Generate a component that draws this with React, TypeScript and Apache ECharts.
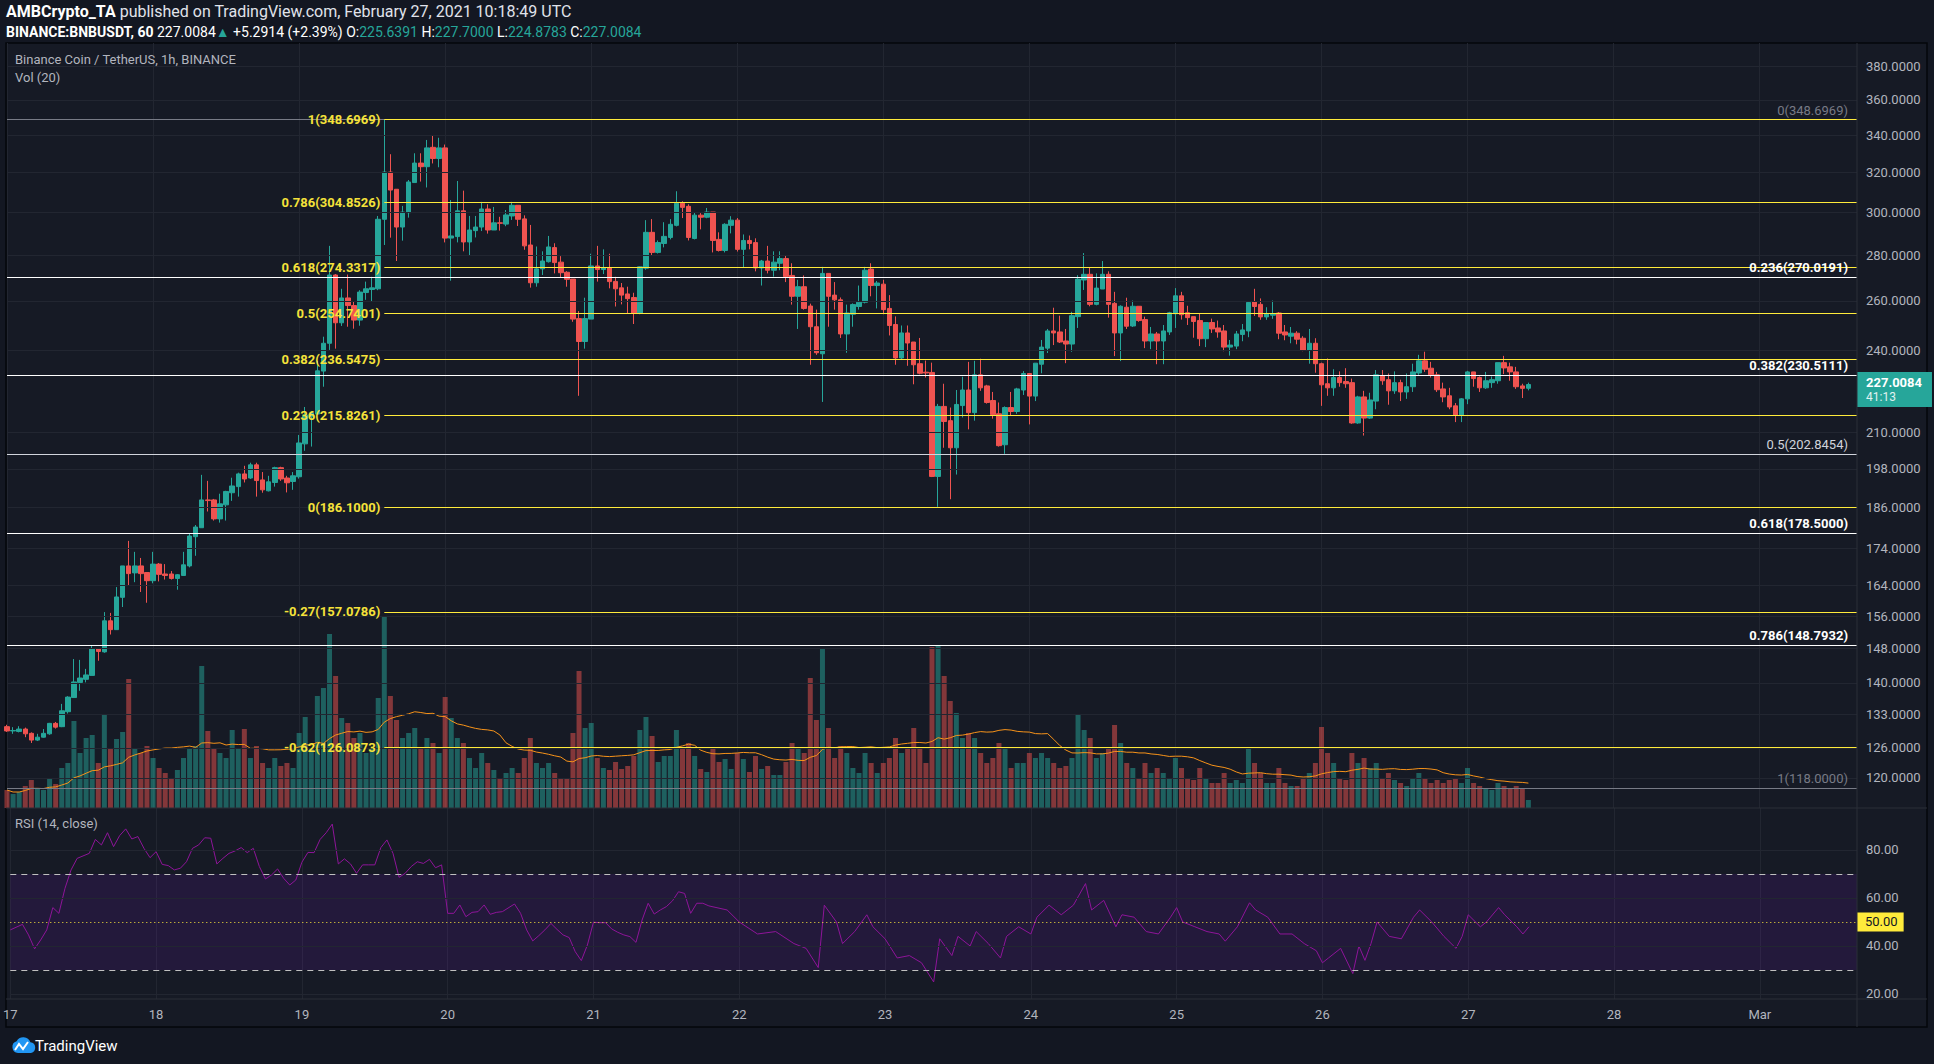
import React, { useEffect, useRef } from "react";
import * as echarts from "echarts";

// ---------- DATA ----------
// hourly candles from 2021-02-17 00:00 UTC: [open, high, low, close]
const ohlc: number[][] = [
  [130.4, 130.8, 129.3, 129.5], [129.5, 130.3, 128.9, 129.6], [129.4, 130.5, 129.2, 129.9], [129.9, 130.2, 128.2, 128.9],
  [129.0, 129.2, 127.0, 127.6], [127.6, 128.9, 127.4, 128.2], [128.2, 129.9, 128.1, 129.0], [128.9, 131.2, 128.7, 131.1],
  [131.1, 131.4, 130.0, 130.3], [130.4, 135.3, 130.3, 133.8], [133.6, 137.0, 133.2, 136.8], [136.7, 145.5, 136.7, 140.2],
  [140.1, 145.3, 138.2, 141.1], [140.8, 143.2, 140.1, 141.8], [141.7, 148.8, 141.7, 147.9], [147.9, 148.1, 145.1, 147.3],
  [147.2, 157.0, 147.0, 154.8], [154.8, 156.8, 151.4, 152.6], [152.6, 163.5, 152.6, 160.9], [160.8, 169.2, 158.3, 169.2],
  [169.2, 176.2, 163.9, 167.1], [167.3, 173.1, 164.8, 169.2], [169.2, 171.4, 162.2, 167.1], [167.4, 167.4, 159.4, 165.2],
  [165.2, 173.1, 164.5, 169.7], [169.7, 170.0, 165.0, 166.9], [167.0, 169.7, 165.5, 166.6], [167.0, 167.8, 165.5, 165.8],
  [165.8, 167.0, 162.8, 166.8], [166.6, 173.1, 166.6, 169.5], [169.2, 178.2, 168.8, 177.6], [177.4, 180.8, 172.0, 180.2],
  [180.0, 196.1, 180.0, 188.3], [188.3, 194.2, 184.8, 188.1], [188.3, 188.6, 182.1, 182.6], [182.6, 190.2, 181.5, 187.1],
  [186.8, 191.1, 182.1, 190.9], [190.5, 195.2, 188.0, 192.6], [192.4, 196.8, 189.3, 196.4], [196.4, 199.0, 193.7, 194.8],
  [195.1, 200.0, 194.8, 199.3], [199.3, 200.0, 189.3, 194.3], [194.5, 197.0, 190.5, 191.4], [191.1, 195.8, 190.9, 193.9],
  [193.7, 198.7, 192.4, 198.4], [198.4, 198.7, 194.2, 194.8], [195.1, 195.8, 190.6, 193.6], [194.0, 197.0, 191.4, 195.8],
  [195.5, 209.2, 194.9, 206.5], [206.2, 218.9, 203.9, 216.1], [215.6, 217.0, 205.3, 216.8], [216.4, 235.8, 216.4, 232.1],
  [232.0, 245.3, 226.2, 242.7], [242.7, 284.2, 240.1, 271.1], [271.1, 271.5, 240.6, 250.9], [250.9, 265.1, 249.6, 261.2],
  [261.2, 271.3, 249.3, 258.0], [258.0, 259.9, 248.5, 252.0], [252.0, 264.5, 249.7, 263.7], [263.5, 268.2, 260.4, 265.1],
  [264.8, 270.3, 259.6, 265.5], [265.1, 298.3, 264.5, 296.7], [296.7, 348.7, 284.6, 320.3], [320.3, 329.7, 288.0, 311.1],
  [311.5, 311.5, 277.3, 293.0], [293.0, 303.2, 286.6, 300.2], [299.9, 316.2, 297.5, 315.2], [314.9, 330.2, 314.9, 325.0],
  [325.0, 330.2, 315.4, 323.1], [323.1, 337.4, 312.4, 333.1], [333.4, 339.7, 324.8, 327.4], [327.4, 338.6, 322.8, 333.1],
  [333.1, 334.9, 285.8, 287.8], [287.8, 306.1, 268.6, 288.8], [288.5, 315.7, 285.8, 300.8], [300.8, 310.8, 281.7, 286.0],
  [286.0, 298.3, 279.9, 291.6], [291.3, 298.3, 288.1, 293.0], [293.0, 305.2, 291.1, 301.7], [301.7, 304.0, 289.9, 291.6],
  [291.6, 302.7, 291.6, 295.0], [295.0, 297.9, 291.3, 294.8], [294.4, 301.2, 293.4, 298.8], [298.3, 305.2, 296.4, 303.5],
  [303.5, 303.5, 293.5, 296.7], [296.9, 298.6, 282.4, 284.2], [284.6, 294.0, 265.6, 267.7], [267.7, 283.9, 266.0, 273.8],
  [273.8, 281.7, 271.1, 277.3], [277.0, 288.8, 276.6, 283.7], [283.4, 285.4, 271.8, 276.6], [276.8, 279.5, 270.0, 272.1],
  [272.3, 272.8, 266.0, 269.2], [269.3, 269.3, 251.3, 252.4], [252.6, 255.7, 222.9, 243.4], [243.4, 261.3, 240.6, 252.6],
  [252.4, 280.6, 252.4, 275.1], [275.1, 284.2, 268.2, 273.5], [273.5, 282.6, 271.5, 274.4], [274.4, 280.6, 265.3, 268.2],
  [268.3, 270.3, 257.6, 265.1], [265.5, 267.6, 258.5, 262.4], [262.9, 266.0, 254.9, 260.9], [261.4, 263.4, 250.4, 254.9],
  [254.9, 274.9, 254.4, 274.7], [274.1, 296.3, 273.4, 290.5], [290.5, 296.8, 279.8, 281.2], [281.2, 286.7, 280.7, 285.7],
  [285.3, 295.3, 283.5, 288.6], [288.1, 296.8, 287.2, 294.3], [293.8, 310.5, 293.3, 304.5], [304.5, 305.5, 297.3, 302.5],
  [303.0, 304.0, 286.7, 288.1], [287.6, 300.2, 287.2, 298.7], [298.7, 299.7, 291.9, 297.7], [297.7, 302.2, 297.2, 300.2],
  [300.2, 300.2, 281.2, 286.7], [287.2, 290.5, 281.6, 282.1], [282.1, 294.8, 281.2, 294.3], [293.8, 298.2, 290.0, 296.3],
  [296.3, 297.3, 281.6, 282.6], [282.6, 289.5, 274.2, 286.7], [286.7, 289.0, 282.6, 285.3], [285.7, 287.7, 272.7, 274.2],
  [274.2, 277.8, 266.5, 277.3], [277.3, 284.2, 271.8, 273.2], [273.2, 281.7, 270.4, 276.8], [276.3, 281.7, 273.2, 278.4],
  [278.4, 279.9, 268.0, 270.4], [270.9, 276.3, 258.4, 261.9], [261.9, 269.0, 248.4, 266.0], [266.0, 270.9, 256.3, 256.8],
  [257.8, 258.8, 234.4, 249.3], [249.3, 256.3, 238.2, 239.0], [238.6, 274.7, 220.7, 271.8], [271.8, 271.8, 249.3, 261.9],
  [262.4, 268.0, 256.3, 260.4], [260.4, 261.4, 244.8, 246.4], [246.4, 258.4, 239.0, 254.9], [254.4, 258.9, 249.3, 258.4],
  [257.6, 266.5, 256.3, 259.4], [259.4, 274.7, 258.9, 273.2], [273.7, 276.3, 261.9, 266.5], [266.5, 268.5, 256.8, 267.6],
  [267.1, 269.0, 254.4, 256.3], [256.8, 262.4, 245.8, 249.8], [250.2, 253.5, 234.4, 237.0], [237.0, 249.8, 236.2, 246.8],
  [246.8, 249.8, 234.0, 242.8], [243.2, 243.2, 227.1, 234.4], [234.8, 244.8, 230.8, 231.2], [231.6, 236.0, 229.6, 231.3],
  [231.5, 235.2, 195.4, 195.6], [195.6, 220.0, 186.2, 219.1], [219.1, 227.3, 204.9, 213.8], [214.1, 218.7, 188.5, 204.9],
  [204.9, 225.0, 196.2, 219.8], [219.4, 229.9, 215.2, 225.0], [225.0, 235.5, 211.1, 216.9], [216.9, 235.9, 214.1, 230.6],
  [230.6, 236.7, 224.7, 225.8], [226.5, 226.9, 220.1, 220.5], [221.2, 224.3, 214.8, 216.2], [216.5, 220.5, 205.3, 205.6],
  [205.9, 219.1, 202.9, 218.7], [218.7, 224.3, 215.9, 217.3], [217.3, 225.8, 216.5, 225.4], [225.0, 232.0, 223.2, 231.1],
  [231.1, 231.1, 212.8, 222.8], [222.8, 235.0, 221.0, 235.0], [234.6, 244.0, 231.2, 241.2], [240.8, 248.4, 238.9, 247.6],
  [247.6, 257.1, 242.0, 246.8], [247.2, 253.8, 242.8, 243.2], [243.6, 248.4, 235.0, 242.4], [242.4, 255.4, 239.4, 253.8],
  [253.4, 271.0, 248.8, 269.3], [268.9, 280.9, 264.6, 271.4], [271.4, 274.6, 257.7, 258.5], [258.5, 271.8, 258.1, 265.4],
  [265.0, 277.3, 265.0, 271.4], [271.4, 272.7, 253.0, 258.5], [258.9, 263.8, 237.7, 246.8], [246.8, 258.1, 235.8, 257.7],
  [257.3, 261.3, 248.4, 249.5], [249.6, 260.1, 249.2, 257.7], [257.7, 257.7, 251.3, 251.8], [252.2, 253.4, 240.8, 243.6],
  [243.6, 249.2, 240.4, 246.4], [246.4, 247.2, 234.6, 243.6], [243.6, 250.0, 234.6, 247.6], [247.2, 255.4, 246.0, 255.0],
  [254.6, 265.4, 248.8, 262.1], [262.1, 263.8, 252.2, 254.2], [255.0, 257.9, 250.0, 253.0], [253.4, 253.4, 244.9, 251.4],
  [251.8, 254.6, 241.6, 244.5], [244.5, 251.0, 241.2, 251.0], [251.0, 252.6, 246.8, 248.4], [248.8, 251.8, 244.9, 247.2],
  [247.6, 250.0, 239.6, 241.2], [241.2, 244.0, 237.9, 242.0], [241.6, 247.6, 240.4, 246.4], [246.2, 250.4, 243.5, 248.0],
  [247.6, 259.7, 245.1, 259.3], [259.7, 265.1, 253.7, 257.6], [258.5, 261.0, 252.1, 253.3], [253.3, 257.3, 252.1, 254.5],
  [254.0, 260.1, 252.5, 254.6], [254.9, 255.3, 244.3, 246.7], [247.2, 250.0, 243.9, 246.0], [245.5, 249.2, 242.7, 246.7],
  [246.7, 247.5, 242.3, 244.3], [244.7, 245.5, 239.6, 240.0], [240.0, 248.4, 234.8, 242.7], [242.7, 244.7, 231.4, 234.8],
  [234.8, 235.2, 219.3, 226.9], [227.3, 236.8, 222.9, 225.8], [225.8, 232.7, 222.9, 229.6], [229.6, 231.9, 226.2, 227.7],
  [228.1, 233.1, 225.8, 227.3], [227.7, 229.2, 213.0, 213.3], [213.3, 222.9, 213.0, 222.5], [222.5, 224.7, 209.0, 215.0],
  [215.0, 224.0, 214.7, 221.4], [221.0, 232.4, 218.1, 230.6], [230.2, 232.4, 226.9, 228.4], [228.8, 231.1, 219.7, 224.7],
  [224.7, 231.9, 223.6, 227.7], [227.7, 228.8, 221.0, 224.3], [224.3, 231.1, 221.8, 226.2], [226.2, 234.8, 224.3, 231.7],
  [231.3, 238.2, 230.6, 235.9], [235.9, 239.4, 231.7, 232.7], [233.1, 235.5, 229.6, 230.6], [230.6, 231.7, 224.3, 225.1],
  [225.4, 227.7, 220.6, 222.5], [222.9, 225.8, 218.1, 218.9], [219.3, 220.3, 213.6, 216.1], [216.1, 222.1, 213.6, 221.8],
  [221.8, 232.1, 219.9, 231.7], [231.7, 231.7, 226.2, 229.2], [229.6, 230.0, 224.3, 225.8], [225.8, 231.7, 225.4, 228.4],
  [227.7, 230.0, 225.8, 228.8], [228.4, 235.2, 227.3, 235.2], [235.2, 237.8, 230.9, 233.2], [233.6, 235.2, 228.4, 231.7],
  [231.7, 233.6, 225.4, 226.2], [226.5, 227.3, 222.1, 225.6], [225.6391, 227.7, 224.8783, 227.0084],
];

// volume per candle (thousand BNB)
const volumes: number[] = [
  18, 14, 16, 22, 28, 20, 18, 30, 24, 40, 45,
  87, 55, 70, 73, 45, 94, 60, 69, 76, 129,
  60, 55, 62, 50, 40, 35, 30, 38, 50, 60,
  62, 142, 77, 60, 55, 50, 78, 60, 79, 50,
  62, 45, 40, 50, 42, 45, 40, 75, 91, 60,
  112, 120, 174, 132, 90, 85, 70, 75, 55, 60,
  110, 191, 112, 88, 70, 75, 80, 60, 70, 65,
  55, 111, 90, 70, 65, 50, 40, 55, 45, 38,
  30, 35, 40, 35, 50, 70, 45, 40, 45, 35,
  30, 30, 75, 137, 80, 85, 50, 40, 38,
  46, 39, 42, 52, 78, 91, 72, 46, 52, 52, 78, 59, 65, 52, 39, 36,
  59, 46, 49, 39, 55, 49, 36, 52, 39, 42, 33, 33, 46, 65, 59, 55,
  130, 88, 160, 80, 50, 62, 55, 40, 35,
  55, 45, 35, 45, 50, 70, 55, 60, 80, 60,
  45, 161, 163, 132, 107, 95, 70, 75, 70, 55,
  45, 50, 65, 60, 40, 45, 45, 55, 50, 55,
  50, 45, 40, 42, 50, 93, 78, 70, 50, 55,
  60, 83, 65, 45, 40, 30, 45, 35, 40, 35,
  30, 50, 40, 30, 28, 40, 30, 25, 25, 35,
  25, 28, 25, 60, 45, 35, 25, 25, 40, 25,
  22, 22, 30, 35, 45, 81, 55, 45, 30, 28,
  55, 45, 50, 40, 45, 30, 35, 28, 25, 22,
  30, 35, 30, 25, 28, 25, 28, 30, 25, 40,
  25, 22, 20, 18, 25, 22, 20, 22, 20, 8,
];

// RSI(14) read per candle (null where not read)
const rsiValues: (number | null)[] = [
  46.7, null, 49.0, 44.6, 38.8, 42.5, 46.7, 56.0, 53.6, 64.0,
  71.7, 76.5, null, 78.6, 84.4, 82.1, 87.2, 81.4, 86.0, 88.8,
  84.6, 85.6, 80.7, 76.8, 79.3, 74.0, 73.5, 71.7, 72.4, 75.1,
  80.7, 82.1, 85.1, 84.9, 74.2, 76.5, 78.6, 79.6, 81.0, 78.9,
  80.7, 73.1, 67.9, 69.6, 72.1, 68.2, 65.4, 67.5, 74.9, 79.0,
  78.9, 84.4, 87.2, 90.8, 74.2, 76.3, 74.2, 70.3, 73.8, 73.8,
  73.8, 81.0, 84.2, 78.6, 68.6, 70.3, 73.1, 75.1, 74.4, 76.1,
  72.6, 73.8, 53.6, 53.6, 57.1, 52.2, 54.0, 54.3, 57.1, 53.2,
  54.0, 54.3, null, 57.5, 53.6, 46.7, 42.1, 44.3, 46.7, 49.4,
  46.9, 44.6, 43.5, 37.6, 33.9, 40.4, 49.9, 49.7, 49.7, 47.1,
  45.7, 44.6, 43.9, 41.5, 50.8, 57.8, 53.3, 55.0, 56.4, 58.8,
  62.6, 61.9, 53.6, 57.8, 57.8, 56.7, null, null, 55.0, null,
  50.0, null, null, 45.0, null, null, 46.0, null, null, 41.0,
  null, 39.0, null, 31.0, 57.0, null, 50.0, 41.0, null, 46.0,
  null, 53.0, 48.0, null, 43.0, null, 35.0, null, 36.0, null,
  33.0, null, 25.0, 43.0, null, 36.0, 44.0, null, 40.0, 46.0,
  null, 41.0, null, 35.0, 44.0, null, 48.0, null, 45.0, 52.0,
  null, 57.0, null, 53.0, null, 57.0, null, 66.0, 55.0, null,
  59.0, null, 48.0, 53.0, null, 52.0, null, 46.0, null, 45.0,
  null, 52.0, 56.0, 50.0, null, 48.0, null, 46.0, null, 45.0,
  42.0, null, 48.0, null, 58.0, 55.0, null, 52.0, null, 45.0,
  null, 45.0, null, 41.0, null, 38.0, 33.0, 35.0, null, 39.0,
  null, 28.5, 40.0, 34.0, 41.0, 50.0, null, 44.0, null, 43.0,
  null, 52.0, 55.0, null, 50.0, null, 44.0, null, 39.0, 44.0,
  53.0, null, 48.0, 50.0, null, 56.0, 53.0, null, 48.0, 45.0,
  48.0,
];

const priceTicks = [380, 360, 340, 320, 300, 280, 260, 240, 210, 198, 186, 174, 164, 156, 148, 140, 133, 126, 120];
const rsiTicks = [80, 60, 40, 20];
const yellowFibLevels = ["1", "0.786", "0.618", "0.5", "0.382", "0.236", "0", "-0.27", "-0.62"];
const yellowFibPrices = [348.6969, 304.8526, 274.3317, 254.7401, 236.5475, 215.8261, 186.1, 157.0786, 126.0873];
const whiteFibLevels = ["0", "0.236", "0.382", "0.5", "0.618", "0.786", "1"];
const whiteFibPrices = [348.6969, 270.0191, 230.5111, 202.8454, 178.5, 148.7932, 118.0];
const lastPrice = 227.0084;
const countdown = "41:13";

// ---------- LAYOUT ----------
const FONT = "'Liberation Sans Narrow', Roboto, 'Noto Sans', sans-serif";
const AX_FONT = "Roboto, 'Noto Sans', sans-serif";
const PANE_L = 7;
const PANE_R = 1857;
const PRICE_TOP = 43;
const PRICE_BOT = 808;
const RSI_BOT = 999;
const FRAME_R = 1927;
const FRAME_B = 1027;

const START = Date.UTC(2021, 1, 17, 0, 0);
const NSLOTS = 305;
const categories: string[] = [];
for (let i = 0; i < NSLOTS; i++) {
  const d = new Date(START + i * 3600000);
  categories.push(`${d.getUTCMonth() + 1}-${d.getUTCDate()}-${d.getUTCHours()}`);
}
const isMidnight = (_i: number, v: string) => v.endsWith("-0");
const dayLabel = (v: string) => {
  const [m, d] = v.split("-");
  return m === "3" && d === "1" ? "Mar" : d;
};

echarts.graphic.registerShape(
  "tvcloud",
  echarts.graphic.extendPath("M6 16 A6 6 0 0 1 4.6 4.3 A7.5 7.5 0 0 1 18.4 5.2 A5.5 5.5 0 0 1 19 16 Z", {}) as any
);

function buildOption() {
  const candleData = ohlc.map(([o, h, l, c]) => [o, c, l, h]);
  const volData = volumes.map((v, i) => ({
    value: v,
    itemStyle: { color: ohlc[i][3] >= ohlc[i][0] ? "rgba(38,166,154,0.5)" : "rgba(239,83,80,0.5)" },
  }));
  const volMa: (number | null)[] = volumes.map((_, i) => {
    const s = volumes.slice(Math.max(0, i - 19), i + 1);
    return s.reduce((a, b) => a + b, 0) / s.length;
  });

  const xAxes = [0, 1, 2].map((g) => ({
    type: "category",
    gridIndex: g,
    data: categories,
    boundaryGap: false,
    axisLine: { show: false },
    axisTick: { show: false },
    axisLabel:
      g === 2
        ? { show: true, interval: isMidnight, formatter: dayLabel, color: "#b2b5be", fontSize: 13, fontFamily: AX_FONT, margin: 9 }
        : { show: false },
    splitLine: g === 1 ? { show: false } : { show: true, interval: isMidnight, lineStyle: { color: "#222631", width: 1 } },
  }));

  const gridLineColor = "#222631";

  const series: any[] = [
    {
      type: "line",
      xAxisIndex: 0,
      yAxisIndex: 0,
      data: [],
      z: 1,
      silent: true,
      markLine: {
        silent: true,
        symbol: "none",
        animation: false,
        lineStyle: { color: gridLineColor, width: 1, type: "solid" },
        label: {
          show: true,
          position: "end",
          distance: 9,
          color: "#b2b5be",
          fontSize: 13,
          fontFamily: AX_FONT,
          formatter: (p: any) => Number(p.value).toFixed(4),
        },
        data: priceTicks.map((v) => ({ yAxis: v })),
      },
    },
    {
      type: "bar",
      xAxisIndex: 1,
      yAxisIndex: 1,
      data: volData,
      barWidth: 5,
      z: 1,
      silent: true,
    },
    {
      type: "line",
      xAxisIndex: 1,
      yAxisIndex: 1,
      data: volMa,
      showSymbol: false,
      z: 2,
      silent: true,
      lineStyle: { color: "#f7931a", width: 1 },
    },
    {
      type: "candlestick",
      xAxisIndex: 0,
      yAxisIndex: 0,
      data: candleData,
      barWidth: 5,
      z: 3,
      itemStyle: { color: "#26a69a", color0: "#ef5350", borderColor: "#26a69a", borderColor0: "#ef5350", borderWidth: 1 },
    },
    {
      type: "line",
      xAxisIndex: 0,
      yAxisIndex: 0,
      data: [],
      z: 4,
      silent: true,
      markLine: {
        silent: true,
        symbol: "none",
        animation: false,
        data: [
          ...whiteFibPrices.map((v, i) => {
            const edge = i === 0 || i === whiteFibPrices.length - 1;
            const mid = whiteFibLevels[i] === "0.5";
            return {
              yAxis: v,
              lineStyle: { color: edge ? "#787b86" : mid ? "#d1d4dc" : "#ffffff", width: 1.2, type: "solid" },
              label: {
                show: true,
                position: "insideEndTop",
                distance: [9, 3],
                formatter: `${whiteFibLevels[i]}(${v.toFixed(4)})`,
                color: edge ? "#787b86" : mid ? "#d1d4dc" : "#ffffff",
                fontWeight: edge || mid ? "normal" : "bold",
                fontSize: 13,
                fontFamily: FONT,
              },
            };
          }),
          ...yellowFibPrices.map((v, i) => [
            {
              xAxis: categories[62],
              yAxis: v,
              lineStyle: { color: "#ffeb3b", width: 1.2, type: "solid" },
              label: {
                show: true,
                position: "start",
                distance: 4,
                formatter: `${yellowFibLevels[i]}(${v.toFixed(4)})`,
                color: "#f5e23a",
                fontWeight: "bold",
                fontSize: 13,
                fontFamily: FONT,
              },
            },
            { xAxis: categories[NSLOTS - 1], yAxis: v },
          ]),
        ],
      },
    },
    {
      type: "line",
      xAxisIndex: 0,
      yAxisIndex: 0,
      data: [],
      z: 6,
      silent: true,
      markLine: {
        silent: true,
        symbol: "none",
        animation: false,
        data: [
          {
            yAxis: lastPrice,
            lineStyle: { color: "rgba(38,166,154,0)", width: 0 },
            label: {
              show: true,
              position: "end",
              distance: 0,
              offset: [0, 5],
              backgroundColor: "#26a69a",
              padding: [3, 10, 3, 9],
              formatter: `{a|${lastPrice.toFixed(4)}}\n{b|${countdown}}`,
              rich: {
                a: { color: "#ffffff", fontSize: 13, fontWeight: "bold", fontFamily: AX_FONT, lineHeight: 15 },
                b: { color: "#e0f2f1", fontSize: 12, fontFamily: AX_FONT, lineHeight: 14 },
              },
            },
          },
        ],
      },
    },
    {
      type: "line",
      xAxisIndex: 2,
      yAxisIndex: 2,
      data: rsiValues,
      showSymbol: false,
      connectNulls: true,
      z: 3,
      silent: true,
      lineStyle: { color: "#8e1599", width: 1 },
      markArea: {
        silent: true,
        itemStyle: { color: "rgba(153,21,255,0.1)" },
        data: [[{ yAxis: 70 }, { yAxis: 30 }]],
      },
      markLine: {
        silent: true,
        symbol: "none",
        animation: false,
        data: [
          ...rsiTicks.map((v) => ({
            yAxis: v,
            lineStyle: { color: gridLineColor, width: 1, type: "solid" },
            label: { show: true, position: "end", distance: 9, color: "#b2b5be", fontSize: 13, fontFamily: AX_FONT, formatter: v.toFixed(2) },
          })),
          { yAxis: 70, lineStyle: { color: "#c0c0c0", width: 1, type: [6, 5] }, label: { show: false } },
          { yAxis: 30, lineStyle: { color: "#c0c0c0", width: 1, type: [6, 5] }, label: { show: false } },
          {
            yAxis: 50,
            lineStyle: { color: "#ffeb3b", width: 1, type: [1, 3] },
            label: {
              show: true,
              position: "end",
              distance: 0,
              backgroundColor: "#ffeb3b",
              color: "#131722",
              padding: [3, 6, 3, 8],
              fontSize: 13,
              fontFamily: AX_FONT,
              formatter: "50.00",
            },
          },
        ],
      },
    },
  ];

  const legendStyle = { fill: "#b2b5be", fontSize: 13, fontFamily: FONT };

  return {
    animation: false,
    backgroundColor: "#131722",
    grid: [
      { left: PANE_L, right: 1934 - PANE_R, top: PRICE_TOP, height: PRICE_BOT - PRICE_TOP },
      { left: PANE_L, right: 1934 - PANE_R, top: PRICE_BOT - 260, height: 260 },
      { left: PANE_L, right: 1934 - PANE_R, top: PRICE_BOT, height: RSI_BOT - PRICE_BOT },
    ],
    xAxis: xAxes,
    yAxis: [
      {
        type: "log",
        logBase: 10,
        gridIndex: 0,
        min: 114.3,
        max: 394.8,
        axisLine: { show: false },
        axisTick: { show: false },
        axisLabel: { show: false },
        splitLine: { show: false },
      },
      { type: "value", gridIndex: 1, min: 0, max: 260, show: false, splitLine: { show: false } },
      { type: "value", gridIndex: 2, min: 17.9, max: 97.5, show: false, splitLine: { show: false } },
    ],
    series,
    graphic: [
      { type: "rect", z: -10, shape: { x: 6, y: PRICE_TOP, width: FRAME_R - 6, height: FRAME_B - PRICE_TOP }, style: { fill: "#161a25", stroke: "#05070b", lineWidth: 1.5 } },
      { type: "line", z: 10, shape: { x1: 6, y1: PRICE_BOT, x2: FRAME_R, y2: PRICE_BOT }, style: { stroke: "#2a2e39", lineWidth: 1 } },
      { type: "line", z: 10, shape: { x1: 6, y1: RSI_BOT, x2: FRAME_R, y2: RSI_BOT }, style: { stroke: "#2a2e39", lineWidth: 1 } },
      { type: "line", z: 10, shape: { x1: PANE_R, y1: PRICE_TOP, x2: PANE_R, y2: FRAME_B }, style: { stroke: "#2a2e39", lineWidth: 1 } },
      {
        type: "text",
        z: 10,
        x: 6,
        y: 11,
        style: {
          text: "{b|AMBCrypto_TA} published on TradingView.com, February 27, 2021 10:18:49 UTC",
          fill: "#e0e3eb",
          fontSize: 16,
          fontFamily: FONT,
          verticalAlign: "middle",
          rich: { b: { fontWeight: "bold", fill: "#ffffff", fontSize: 16, fontFamily: FONT } },
        },
      },
      {
        type: "text",
        z: 10,
        x: 6,
        y: 32,
        style: {
          text:
            "{b|BINANCE:BNBUSDT, 60} 227.0084{t|▲} +5.2914 (+2.39%) O:{t|225.6391} H:{t|227.7000} L:{t|224.8783} C:{t|227.0084}",
          fill: "#ffffff",
          fontSize: 14,
          fontFamily: FONT,
          verticalAlign: "middle",
          rich: {
            b: { fontWeight: "bold", fill: "#ffffff", fontSize: 14, fontFamily: FONT },
            t: { fill: "#26a69a", fontSize: 14, fontFamily: FONT },
          },
        },
      },
      { type: "text", z: 10, x: 15, y: 59, style: { ...legendStyle, text: "Binance Coin / TetherUS, 1h, BINANCE", verticalAlign: "middle" } },
      { type: "text", z: 10, x: 15, y: 77, style: { ...legendStyle, text: "Vol (20)", verticalAlign: "middle" } },
      { type: "text", z: 10, x: 15, y: 823, style: { ...legendStyle, text: "RSI (14, close)", verticalAlign: "middle" } },
      { type: "tvcloud", z: 10, x: 12, y: 1037, scaleX: 1.0, scaleY: 1.0, style: { fill: "#2196f3" } },
      { type: "polyline", z: 11, shape: { points: [[15, 1050], [19, 1044], [23, 1049], [28, 1042]] }, style: { stroke: "#ffffff", lineWidth: 2, fill: null } },
      { type: "text", z: 10, x: 35, y: 1046, style: { text: "TradingView", fill: "#ffffff", fontSize: 15, fontFamily: FONT, verticalAlign: "middle" } },
    ],
  };
}

export default function App() {
  const ref = useRef<HTMLDivElement>(null);
  useEffect(() => {
    if (!ref.current) return;
    const chart = echarts.init(ref.current, undefined, { renderer: "svg" });
    chart.setOption(buildOption() as any);
    return () => chart.dispose();
  }, []);
  return <div ref={ref} style={{ position: "fixed", left: 0, top: 0, width: 1934, height: 1064 }} />;
}
